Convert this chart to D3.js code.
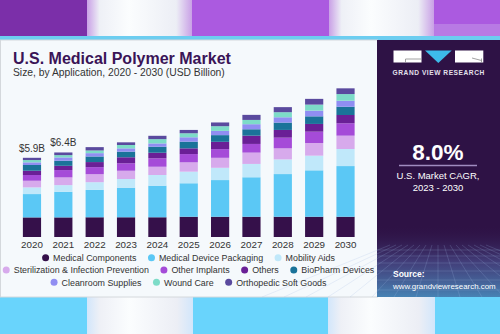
<!DOCTYPE html>
<html><head><meta charset="utf-8">
<script src="https://cdn.jsdelivr.net/npm/d3@7"></script>
<style>
html,body{margin:0;padding:0;background:#fff;}
svg{display:block;font-family:"Liberation Sans",Arial,sans-serif;}
</style></head>
<body><svg id="c" width="500" height="334"></svg>
<script>
const years = ["2020","2021","2022","2023","2024","2025","2026","2027","2028","2029","2030"];
const seriesNames = ["Medical Components","Medical Device Packaging","Mobility Aids","Sterilization & Infection Prevention","Other Implants","Others","BioPharm Devices","Cleanroom Supplies","Wound Care","Orthopedic Soft Goods"];
const seriesColors = ["#35104a","#5bc8f5","#c0e8fa","#d7aaec","#a54bd8","#6a1f96","#1a7399","#908ef2","#7ddcc8","#5a4a9e"];
const medicalComponents = [1.47,1.47,1.48,1.48,1.48,1.52,1.52,1.52,1.52,1.52,1.52];
const medicalDevicePackaging = [1.75,1.92,2.05,2.22,2.37,2.51,2.75,2.96,3.20,3.48,3.80];
const mobilityAids = [0.50,0.50,0.58,0.65,0.80,0.87,0.92,1.00,1.10,1.10,1.28];
const sterilization = [0.50,0.58,0.60,0.62,0.62,0.70,0.75,0.85,0.83,0.95,1.00];
const otherImplants = [0.43,0.55,0.53,0.56,0.63,0.62,0.65,0.65,0.80,0.85,0.93];
const others = [0.32,0.32,0.38,0.45,0.42,0.43,0.55,0.62,0.58,0.58,0.62];
const bioPharmDevices = [0.43,0.38,0.42,0.42,0.45,0.50,0.50,0.48,0.55,0.57,0.62];
const cleanroomSupplies = [0.20,0.25,0.25,0.25,0.25,0.33,0.32,0.38,0.40,0.43,0.45];
const woundCare = [0.17,0.17,0.20,0.25,0.32,0.30,0.35,0.32,0.38,0.45,0.50];
const orthopedicSoftGoods = [0.17,0.20,0.25,0.20,0.25,0.25,0.28,0.38,0.38,0.43,0.43];
const totalLabels = ["$5.9B","$6.4B"];
const legendRows = [[0,1,2],[3,4,5,6],[7,8,9]];

const seriesValues = [medicalComponents,medicalDevicePackaging,mobilityAids,sterilization,otherImplants,others,bioPharmDevices,cleanroomSupplies,woundCare,orthopedicSoftGoods];
const table = years.map((y,i)=>{const o={year:y}; seriesNames.forEach((s,j)=>o[s]=seriesValues[j][i]); return o;});

const svg = d3.select("#c");
const defs = svg.append("defs");

function bandGrad(id, edge){
  const g = defs.append("linearGradient").attr("id",id).attr("x1","0").attr("x2","1");
  g.append("stop").attr("offset","0").attr("stop-color",edge);
  g.append("stop").attr("offset","0.12").attr("stop-color","#eef0f6");
  g.append("stop").attr("offset","0.4").attr("stop-color","#fbfdfe");
  g.append("stop").attr("offset","0.85").attr("stop-color","#eceef5");
  g.append("stop").attr("offset","1").attr("stop-color",edge);
}
bandGrad("bt","#c9a0e6");
bandGrad("bb","#d2e6fb");

// top strip
svg.append("rect").attr("x",0).attr("y",0).attr("width",500).attr("height",37).attr("fill","#ab5ae0");
svg.append("rect").attr("x",0).attr("y",0).attr("width",88).attr("height",37).attr("fill","#7b2fa9");
svg.append("rect").attr("x",87).attr("y",0).attr("width",105).attr("height",37).attr("fill","url(#bt)");
svg.append("rect").attr("x",329).attr("y",0).attr("width",105).attr("height",37).attr("fill","url(#bt)");
svg.append("rect").attr("x",434).attr("y",24).attr("width",66).attr("height",13).attr("fill","#b87ae4");
// bottom strip
svg.append("rect").attr("x",0).attr("y",297).attr("width",500).attr("height",37).attr("fill","#69d4fc");
svg.append("rect").attr("x",87).attr("y",297).attr("width",106).attr("height",37).attr("fill","url(#bb)");
svg.append("rect").attr("x",328).attr("y",297).attr("width",107).attr("height",37).attr("fill","url(#bb)");

// cyan line
svg.append("rect").attr("x",0).attr("y",36).attr("width",500).attr("height",4).attr("fill","#6ccdf0");
// card
svg.append("rect").attr("x",0.5).attr("y",40).attr("width",377).attr("height",257).attr("fill","#f5f9fc").attr("stroke","#d4d8dc").attr("stroke-width",1);

// right panel
const px = 377;
svg.append("rect").attr("x",px).attr("y",40).attr("width",123).attr("height",257).attr("fill","#2e1245");
const pg = defs.append("linearGradient").attr("id","pg").attr("x1","0").attr("x2","0").attr("y1","0").attr("y2","1");
pg.append("stop").attr("offset","0").attr("stop-color","#2e1245").attr("stop-opacity",0);
pg.append("stop").attr("offset","0.5").attr("stop-color","#4a4f8e").attr("stop-opacity",0.7);
pg.append("stop").attr("offset","1").attr("stop-color","#4a8fc0").attr("stop-opacity",0.9);
svg.append("rect").attr("x",px).attr("y",225).attr("width",123).attr("height",72).attr("fill","url(#pg)");
const grid = svg.append("g").attr("stroke","#9fb8e0").attr("stroke-opacity",0.35).attr("stroke-width",0.6);
[250,256,263,271,280,290].forEach(y=>grid.append("line").attr("x1",px).attr("x2",500).attr("y1",y).attr("y2",y));
d3.range(-8,9).forEach(k=>grid.append("line").attr("x1",438+k*6).attr("y1",245).attr("x2",438+k*22).attr("y2",297));

// logo
svg.append("rect").attr("x",393.5).attr("y",50.5).attr("width",28).attr("height",12).attr("fill","#ffffff");
svg.append("path").attr("d","M405.5,59 H421.5 M405.5,59 V62.5").attr("stroke","#8a8a8a").attr("stroke-width",0.8).attr("fill","none");
svg.append("path").attr("d","M425,50.5 L451.7,50.5 L438.3,63 Z").attr("fill","#3dbbea");
svg.append("rect").attr("x",455).attr("y",50.5).attr("width",28.3).attr("height",12).attr("fill","#ffffff");
svg.append("path").attr("d","M472,58 L481.5,60.5 M481.5,58.5 V62.5").attr("stroke","#8a8a8a").attr("stroke-width",0.8).attr("fill","none");
svg.append("text").attr("x",438.7).attr("y",75).attr("text-anchor","middle").attr("fill","#e4e0ec")
  .attr("font-size",6.6).attr("font-weight","bold").attr("letter-spacing",0.55).text("GRAND VIEW RESEARCH");

svg.append("text").attr("x",438).attr("y",160).attr("text-anchor","middle").attr("fill","#ffffff")
  .attr("font-size",22.5).attr("font-weight","bold").text("8.0%");
svg.append("line").attr("x1",399).attr("x2",477).attr("y1",165.5).attr("y2",165.5).attr("stroke","#a08cc0").attr("stroke-width",1.6);
svg.append("text").attr("x",438).attr("y",179).attr("text-anchor","middle").attr("fill","#ffffff").attr("font-size",9.5).text("U.S. Market CAGR,");
svg.append("text").attr("x",438).attr("y",191).attr("text-anchor","middle").attr("fill","#ffffff").attr("font-size",9.5).text("2023 - 2030");
svg.append("text").attr("x",393).attr("y",277).attr("fill","#ffffff").attr("font-size",8.5).attr("font-weight","bold").text("Source:");
svg.append("text").attr("x",393).attr("y",289).attr("fill","#ffffff").attr("font-size",7.9).text("www.grandviewresearch.com");

// titles
svg.append("text").attr("x",13).attr("y",63.5).attr("fill","#3a1457").attr("font-size",16).attr("font-weight","bold").text("U.S. Medical Polymer Market");
svg.append("text").attr("x",13).attr("y",75.5).attr("fill","#333").attr("font-size",10.3).text("Size, by Application, 2020 - 2030 (USD Billion)");

// chart
const x = d3.scaleBand().domain(years).range([16.3,361.2]).paddingInner(0.42).paddingOuter(0.21);
const y = d3.scaleLinear().domain([0,12]).range([237,77]);
const stack = d3.stack().keys(seriesNames)(table);
const gBars = svg.append("g");
stack.forEach((layer,li)=>{
  gBars.append("g").attr("fill",seriesColors[li]).selectAll("rect").data(layer).join("rect")
    .attr("x",d=>x(d.data.year)).attr("width",x.bandwidth())
    .attr("y",d=>y(d[1])).attr("height",d=>y(d[0])-y(d[1]));
});
totalLabels.forEach((t,i)=>{
  const top = stack[stack.length-1][i][1];
  svg.append("text").attr("x",x(years[i])+x.bandwidth()/2).attr("y",y(top)-6).attr("text-anchor","middle")
    .attr("fill","#333").attr("font-size",10).text(t);
});
const ax = svg.append("g").attr("transform","translate(0,237)").call(d3.axisBottom(x).tickSize(0).tickPadding(4));
ax.select(".domain").remove();
ax.selectAll("text").attr("fill","#333").attr("font-size",9.8).attr("font-family","Liberation Sans, Arial, sans-serif");

// legend
const rowY = [257.7,270,282.3];
const leg = svg.append("g").attr("font-size",8.9).attr("fill","#333");
legendRows.forEach((row,ri)=>{
  const g = leg.append("g");
  let cx = 0;
  row.forEach(si=>{
    g.append("circle").attr("cx",cx+3.5).attr("cy",0).attr("r",3.5).attr("fill",seriesColors[si]);
    const t = g.append("text").attr("x",cx+11).attr("y",3.2).text(seriesNames[si]);
    cx += 11 + t.node().getComputedTextLength() + 11.5;
  });
  const w = cx - 11.5;
  g.attr("transform",`translate(${188.5 - w/2},${rowY[ri]})`);
});
</script></body></html>
